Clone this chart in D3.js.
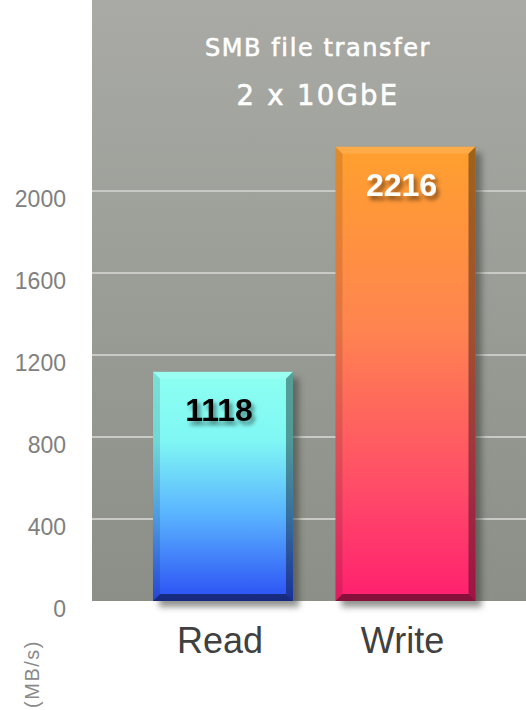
<!DOCTYPE html>
<html>
<head>
<meta charset="utf-8">
<script src="https://cdn.jsdelivr.net/npm/d3@7"></script>
<style>
  html, body { margin: 0; padding: 0; background: #ffffff; }
  svg { display: block; }
</style>
</head>
<body>
<script>
// Chart data
const categories = ["Read", "Write"];
const speeds = [1118, 2216];
const yTicks = [0, 400, 800, 1200, 1600, 2000];
const titleLines = ["SMB file transfer", "2 x 10GbE"];
const unitLabel = "(MB/s)";

const W = 526, H = 710;
const plot = { left: 92, right: 526, top: 0, bottom: 601 };

const svg = d3.select("body").append("svg")
  .attr("width", W).attr("height", H);
const defs = svg.append("defs");

// Gradients
function vGradient(id, stops) {
  const g = defs.append("linearGradient").attr("id", id)
    .attr("x1", 0).attr("y1", 0).attr("x2", 0).attr("y2", 1);
  stops.forEach(([o, c]) => g.append("stop").attr("offset", o).attr("stop-color", c));
}
vGradient("bg", [[0, "#a9aaa5"], [1, "#8b8f87"]]);
const faceGradients = {
  Read: [[0, "#8dfff1"], [0.3, "#80f7f4"], [0.62, "#5ab4ff"], [1, "#2b4ff4"]],
  Write: [[0, "#ffa02e"], [0.4, "#ff8450"], [0.75, "#ff4c68"], [1, "#ff1f70"]]
};
Object.entries(faceGradients).forEach(([k, s]) => vGradient("face-" + k, s));

// Soft drop shadow behind each bar
const fShadow = defs.append("filter").attr("id", "barShadow")
  .attr("x", "-20%").attr("y", "-20%").attr("width", "140%").attr("height", "140%");
fShadow.append("feGaussianBlur").attr("stdDeviation", 3);

// Shadow for the value labels
const fText = defs.append("filter").attr("id", "textShadow")
  .attr("x", "-30%").attr("y", "-30%").attr("width", "160%").attr("height", "160%");
fText.append("feDropShadow").attr("dx", 3).attr("dy", 4)
  .attr("stdDeviation", 2).attr("flood-color", "#000").attr("flood-opacity", 0.45);

// Scales
const x = d3.scaleBand()
  .domain(categories)
  .range([plot.left, plot.right])
  .paddingInner(0.233)
  .paddingOuter(0.3055)
  .align(0.547);

const y = d3.scaleLinear()
  .domain([0, 2932])
  .range([plot.bottom, plot.top]);

// Plot background
svg.append("rect")
  .attr("x", plot.left).attr("y", plot.top)
  .attr("width", plot.right - plot.left).attr("height", plot.bottom - plot.top)
  .attr("fill", "url(#bg)");

// Gridlines
svg.append("g").selectAll("line")
  .data(yTicks.filter(d => d > 0))
  .join("line")
  .attr("x1", plot.left).attr("x2", plot.right)
  .attr("y1", d => y(d)).attr("y2", d => y(d))
  .attr("stroke", "#c9cac5").attr("stroke-width", 2);

// Y axis labels
const yAxis = d3.axisLeft(y).tickValues(yTicks).tickSize(0).tickPadding(0)
  .tickFormat(d3.format("d"));
const gy = svg.append("g").attr("transform", "translate(66,0)").call(yAxis);
gy.select(".domain").remove();
gy.selectAll("text")
  .attr("dy", 15)
  .attr("fill", "#808080")
  .style("font-family", "'Liberation Sans', Arial, sans-serif")
  .style("font-size", "23px");

// Unit label
svg.append("text")
  .attr("transform", "translate(39,674) rotate(-90)")
  .attr("text-anchor", "middle")
  .attr("fill", "#8a8a8a")
  .style("font-family", "'Liberation Sans', Arial, sans-serif")
  .style("font-size", "20px")
  .style("letter-spacing", "1.5px")
  .text(unitLabel);

// Bars
const data = categories.map((c, i) => ({ cat: c, value: speeds[i] }));
const bw = x.bandwidth();
const bev = 7;

const bars = svg.append("g").selectAll("g.bar")
  .data(data).join("g").attr("class", "bar");

bars.append("rect")
  .attr("x", d => x(d.cat) + 6)
  .attr("y", d => y(d.value) + 6)
  .attr("width", bw)
  .attr("height", d => y(0) - y(d.value))
  .attr("fill", "#3a3d38")
  .attr("opacity", 0.55)
  .attr("filter", "url(#barShadow)");

bars.append("rect")
  .attr("x", d => x(d.cat))
  .attr("y", d => y(d.value))
  .attr("width", bw)
  .attr("height", d => y(0) - y(d.value))
  .attr("fill", d => "url(#face-" + d.cat + ")");

// Bevelled edges
const bevels = [
  { name: "top", fill: "#ffffff", op: 0.12,
    pts: (x0, y0, x1, y1) => [[x0, y0], [x1, y0], [x1 - bev, y0 + bev], [x0 + bev, y0 + bev]] },
  { name: "left", fill: "#000000", op: 0.12,
    pts: (x0, y0, x1, y1) => [[x0, y0], [x0 + bev, y0 + bev], [x0 + bev, y1 - bev], [x0, y1]] },
  { name: "right", fill: "#000000", op: 0.38,
    pts: (x0, y0, x1, y1) => [[x1, y0], [x1, y1], [x1 - bev, y1 - bev], [x1 - bev, y0 + bev]] },
  { name: "bottom", fill: "#000000", op: 0.48,
    pts: (x0, y0, x1, y1) => [[x0, y1], [x0 + bev, y1 - bev], [x1 - bev, y1 - bev], [x1, y1]] }
];
bars.each(function (d) {
  const g = d3.select(this);
  const x0 = x(d.cat), x1 = x0 + bw, y0 = y(d.value), y1 = y(0);
  bevels.forEach(b => {
    g.append("polygon")
      .attr("points", b.pts(x0, y0, x1, y1).map(p => p.join(",")).join(" "))
      .attr("fill", b.fill).attr("opacity", b.op);
  });
});

// Value labels
bars.append("text")
  .attr("x", d => x(d.cat) + bw / 2 - 4)
  .attr("y", d => y(d.value) + 49)
  .attr("text-anchor", "middle")
  .attr("fill", d => d.cat === "Read" ? "#000000" : "#ffffff")
  .attr("filter", "url(#textShadow)")
  .style("font-family", "'Liberation Sans', Arial, sans-serif")
  .style("font-weight", "bold")
  .style("font-size", "32px")
  .text(d => d.value);

// Category labels
svg.append("g").selectAll("text")
  .data(categories).join("text")
  .attr("x", d => x(d) + bw / 2 - 3)
  .attr("y", 653)
  .attr("text-anchor", "middle")
  .attr("fill", "#404040")
  .style("font-family", "'Liberation Sans', Arial, sans-serif")
  .style("font-size", "36px")
  .text(d => d);

// Title
svg.append("g").selectAll("text")
  .data(titleLines).join("text")
  .attr("x", 318)
  .attr("y", (d, i) => i === 0 ? 55.5 : 105)
  .attr("text-anchor", "middle")
  .attr("fill", "#ffffff")
  .attr("stroke", "#ffffff")
  .attr("stroke-width", 0.6)
  .style("font-family", "'DejaVu Sans', sans-serif")
  .style("font-size", (d, i) => i === 0 ? "24px" : "27.5px")
  .style("letter-spacing", (d, i) => i === 0 ? "1.6px" : "2.3px")
  .text(d => d);
</script>
</body>
</html>
